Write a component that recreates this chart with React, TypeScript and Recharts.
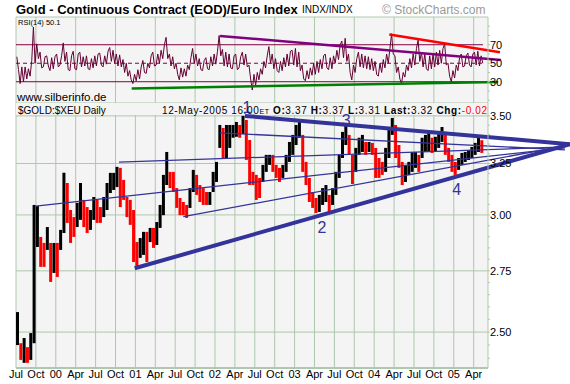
import React from 'react';
import {
  ComposedChart,
  Bar,
  Line,
  XAxis,
  YAxis,
  CartesianGrid,
  ReferenceLine,
  ReferenceArea,
  ReferenceDot,
  Cell,
} from 'recharts';

const FONT = '"Liberation Sans", Arial, Helvetica, sans-serif';
const GRID = '#aec7ae';
const BG = '#f4f4f4';
const NAVY = '#333399';
const MAROON = '#660033';

// half-month periods: two values per month (1st half, 2nd half); May 2005 only 1st half
const months = [
  '1999-07', '1999-08', '1999-09', '1999-10', '1999-11', '1999-12',
  '2000-01', '2000-02', '2000-03', '2000-04', '2000-05', '2000-06',
  '2000-07', '2000-08', '2000-09', '2000-10', '2000-11', '2000-12',
  '2001-01', '2001-02', '2001-03', '2001-04', '2001-05', '2001-06',
  '2001-07', '2001-08', '2001-09', '2001-10', '2001-11', '2001-12',
  '2002-01', '2002-02', '2002-03', '2002-04', '2002-05', '2002-06',
  '2002-07', '2002-08', '2002-09', '2002-10', '2002-11', '2002-12',
  '2003-01', '2003-02', '2003-03', '2003-04', '2003-05', '2003-06',
  '2003-07', '2003-08', '2003-09', '2003-10', '2003-11', '2003-12',
  '2004-01', '2004-02', '2004-03', '2004-04', '2004-05', '2004-06',
  '2004-07', '2004-08', '2004-09', '2004-10', '2004-11', '2004-12',
  '2005-01', '2005-02', '2005-03', '2005-04', '2005-05',
];

const priceHigh = [
  2.579, 2.457, 2.477, 2.442, 2.496, 3.047, 3.042, 2.899, 2.872, 2.944,
  2.872, 2.872, 2.872, 2.931, 3.203, 3.153, 3.023, 2.990, 3.057, 3.153,
  3.071, 3.037, 3.023, 3.085, 3.071, 3.037, 3.085, 3.153, 3.203, 3.203,
  3.233, 3.228, 3.168, 3.085, 3.071, 3.023, 2.876, 2.894, 2.922, 2.922,
  2.940, 2.940, 2.967, 3.047, 3.193, 3.309, 3.208, 3.208, 3.128, 3.080,
  3.061, 3.047, 3.128, 3.218, 3.193, 3.143, 3.128, 3.109, 3.109, 3.208,
  3.258, 3.451, 3.435, 3.451, 3.451, 3.451, 3.467, 3.451, 3.500, 3.478,
  3.371, 3.208, 3.193, 3.178, 3.243, 3.294, 3.294, 3.294, 3.243, 3.228,
  3.243, 3.294, 3.361, 3.398, 3.451, 3.478, 3.398, 3.258, 3.178, 3.109,
  3.080, 3.095, 3.128, 3.143, 3.095, 3.128, 3.208, 3.294, 3.414, 3.462,
  3.398, 3.294, 3.330, 3.383, 3.398, 3.361, 3.361, 3.356, 3.330, 3.278,
  3.258, 3.330, 3.435, 3.489, 3.451, 3.345, 3.258, 3.243, 3.258, 3.309,
  3.309, 3.294, 3.383, 3.398, 3.414, 3.383, 3.388, 3.414, 3.440, 3.414,
  3.330, 3.294, 3.258, 3.278, 3.304, 3.309, 3.319, 3.335, 3.356, 3.383,
  3.370,
];

const priceLow = [
  2.450, 2.394, 2.383, 2.383, 2.394, 2.457, 2.854, 2.767, 2.767, 2.841,
  2.703, 2.741, 2.724, 2.841, 2.917, 2.963, 2.872, 2.899, 2.944, 2.977,
  2.944, 2.917, 2.931, 2.977, 2.963, 2.963, 2.990, 3.023, 3.104, 3.119,
  3.133, 3.037, 3.071, 2.990, 2.954, 2.788, 2.767, 2.806, 2.819, 2.788,
  2.876, 2.850, 2.863, 2.940, 2.999, 3.143, 3.128, 3.109, 3.033, 2.999,
  2.999, 2.986, 3.033, 3.109, 3.095, 3.061, 3.047, 3.047, 3.047, 3.109,
  3.158, 3.330, 3.278, 3.278, 3.330, 3.383, 3.388, 3.383, 3.403, 3.268,
  3.143, 3.143, 3.071, 3.080, 3.158, 3.208, 3.243, 3.208, 3.178, 3.158,
  3.178, 3.208, 3.258, 3.294, 3.345, 3.383, 3.208, 3.143, 3.061, 3.033,
  3.009, 3.014, 3.047, 3.061, 3.014, 3.047, 3.095, 3.178, 3.278, 3.345,
  3.294, 3.148, 3.208, 3.294, 3.309, 3.294, 3.309, 3.294, 3.178, 3.178,
  3.193, 3.208, 3.278, 3.398, 3.278, 3.228, 3.143, 3.158, 3.193, 3.208,
  3.228, 3.208, 3.278, 3.309, 3.309, 3.304, 3.309, 3.330, 3.361, 3.294,
  3.258, 3.208, 3.193, 3.218, 3.243, 3.258, 3.268, 3.278, 3.294, 3.309,
  3.304,
];

const rsiHigh = [
  57, 46, 46, 44, 53, 89, 71, 62, 57, 58,
  56, 57, 60, 58, 72, 62, 58, 63, 60, 62,
  57, 58, 55, 58, 60, 61, 58, 63, 67, 64,
  60, 59, 54, 50, 42, 38, 43, 46, 53, 50,
  58, 62, 60, 64, 70, 78, 60, 57, 50, 45,
  44, 48, 56, 66, 60, 55, 53, 56, 57, 60,
  63, 80, 65, 62, 60, 58, 60, 57, 62, 60,
  48, 38, 40, 44, 52, 58, 68, 60, 55, 52,
  56, 60, 63, 64, 66, 62, 48, 42, 45, 50,
  52, 54, 58, 60, 56, 58, 64, 70, 74, 77,
  60, 48, 55, 62, 60, 58, 57, 55, 52, 50,
  54, 60, 66, 82, 58, 46, 40, 48, 55, 60,
  66, 75, 62, 60, 58, 60, 62, 64, 66, 71,
  50, 42, 48, 56, 60, 58, 61, 60, 62, 63,
  58,
];

const rsiLow = [
  43, 28, 30, 33, 36, 50, 55, 45, 46, 47,
  42, 44, 46, 48, 52, 43, 42, 44, 43, 46,
  47, 44, 43, 45, 47, 48, 46, 49, 52, 50,
  47, 46, 40, 36, 32, 28, 31, 33, 40, 39,
  45, 47, 48, 50, 55, 55, 47, 44, 38, 32,
  35, 36, 43, 50, 47, 43, 42, 44, 43, 47,
  49, 58, 47, 46, 45, 44, 43, 45, 48, 46,
  33, 21, 26, 32, 38, 45, 50, 44, 42, 40,
  42, 46, 47, 48, 46, 42, 33, 31, 33, 37,
  38, 40, 44, 45, 43, 44, 50, 54, 56, 52,
  40, 32, 40, 46, 45, 44, 43, 42, 38, 36,
  40, 45, 50, 60, 40, 33, 28, 35, 42, 45,
  48, 52, 46, 44, 42, 44, 46, 48, 50, 48,
  36, 30, 34, 42, 46, 47, 48, 46, 48, 47,
  50,
];

// x axis: months counted from Jan 1999
const quarterTicks = [6, 9, 12, 15, 18, 21, 24, 27, 30, 33, 36, 39, 42, 45, 48, 51, 54, 57, 60, 63, 66, 69, 72, 75];
const quarterLabels = ['Jul', 'Oct', '00', 'Apr', 'Jul', 'Oct', '01', 'Apr', 'Jul', 'Oct', '02', 'Apr', 'Jul', 'Oct', '03', 'Apr', 'Jul', 'Oct', '04', 'Apr', 'Jul', 'Oct', '05', 'Apr'];
const xDomain = [6, 77.16];

const priceTicks = [2.4, 2.45, 2.5, 2.55, 2.6, 2.65, 2.7, 2.75, 2.8, 2.85, 2.9, 2.95, 3.0, 3.05, 3.1, 3.15, 3.2, 3.25, 3.3, 3.35, 3.4, 3.45, 3.5];
const priceLabels = [2.5, 2.75, 3.0, 3.25, 3.5];
const priceDomain = [2.364, 3.571];

const rsiTicks = [10, 20, 30, 40, 50, 60, 70, 80, 90];
const rsiLabels = [30, 50, 70];
const rsiDomain = [7, 100];
const rsiLevels = [70, 30];
const rsiMid = 50;
const rsiEnd = 76.4;

// trend lines [t, value]
const upperRim = [[40.52, 3.5], [89.52, 3.349]];
const lowerRim = [[23.9, 2.761], [89.52, 3.349]];
const fanLines = [
  [[8.97, 3.041], [88.77, 3.33]],
  [[21.53, 3.257], [88.77, 3.335]],
  [[36.76, 3.409], [88.77, 3.32]],
  [[31.22, 2.992], [88.77, 3.34]],
];
const rsiRedLine = [[62.28, 81.0], [78.97, 61.9]];
const rsiPurpleLine = [[36.76, 79.5], [79.07, 53.6]];
const rsiGreenLine = [[23.44, 22.6], [78.7, 29.8]];

const waveLabels = ['1', '2', '3', '4'];
const waveT = [40.83, 52.13, 55.8, 72.44];
const wavePrice = [3.547, 2.943, 3.476, 3.124];

const monthIndex = (s: string) => {
  const [y, m] = s.split('-').map(Number);
  return (y - 1999) * 12 + (m - 1);
};

const periodT = (i: number) => monthIndex(months[Math.floor(i / 2)]) + (i % 2) * 0.5 + 0.25;

const priceData = priceHigh.map((h, i) => ({
  t: periodT(i),
  range: [priceLow[i], h],
}));

const barColors = priceHigh.map((h, i) => {
  const mid = (h + priceLow[i]) / 2;
  const prev = i > 0 ? (priceHigh[i - 1] + priceLow[i - 1]) / 2 : mid;
  return mid >= prev ? '#000000' : '#ff0000';
});

// each half-month contributes its high and low; order follows the direction to the next period
const rsiData = rsiHigh.flatMap((h, i) => {
  const t = periodT(i);
  const mid = (h + rsiLow[i]) / 2;
  const next = i < rsiHigh.length - 1 ? (rsiHigh[i + 1] + rsiLow[i + 1]) / 2 : -Infinity;
  const rising = next > mid;
  const first = rising ? rsiLow[i] : h;
  const second = rising ? h : rsiLow[i];
  return [
    { t: t - 0.125, v: first },
    { t: t + 0.125, v: second },
  ];
});

const seg = (p: number[][]) => [
  { x: p[0][0], y: p[0][1] },
  { x: p[1][0], y: p[1][1] },
];

const PriceTick = (props: any) => {
  const { x, y, payload } = props;
  const v = payload.value;
  if (!priceLabels.some((l) => Math.abs(l - v) < 1e-6)) return <g />;
  return (
    <text x={x} y={y} dy="0.355em" fontSize={11} fontFamily={FONT} fill="#000" textAnchor="start">
      {v.toFixed(2)}
    </text>
  );
};

const RsiTick = (props: any) => {
  const { x, y, payload } = props;
  const v = payload.value;
  if (!rsiLabels.includes(v)) return <g />;
  return (
    <text x={x} y={y} dy="0.355em" fontSize={11} fontFamily={FONT} fill="#000" textAnchor="start">
      {v}
    </text>
  );
};

const qLabel = (v: number) => {
  const i = quarterTicks.indexOf(v);
  return i >= 0 ? quarterLabels[i] : '';
};

export default function App() {
  return (
    <div
      style={{
        position: 'absolute',
        left: 0,
        top: 0,
        width: 570,
        height: 384,
        background: '#ffffff',
        overflow: 'hidden',
        fontFamily: FONT,
      }}
    >
      {/* RSI panel */}
      <div style={{ position: 'absolute', left: 0, top: 0 }}>
        <ComposedChart width={570} height={110} data={rsiData} margin={{ top: 17, right: 42, bottom: 7, left: 16 }}>
          <CartesianGrid stroke={GRID} fill={BG} horizontalValues={[100]} verticalValues={quarterTicks} />
          <XAxis type="number" dataKey="t" domain={xDomain} allowDataOverflow hide />
          <YAxis
            orientation="right"
            domain={rsiDomain}
            allowDataOverflow
            ticks={rsiTicks}
            interval={0}
            width={40}
            tickSize={2}
            tickMargin={0}
            axisLine={{ stroke: GRID }}
            tickLine={{ stroke: GRID }}
            tick={RsiTick}
          />
          <YAxis
            yAxisId="left"
            orientation="left"
            mirror
            domain={rsiDomain}
            allowDataOverflow
            ticks={rsiTicks}
            interval={0}
            width={0}
            tick={false}
            tickSize={3}
            axisLine={{ stroke: GRID }}
            tickLine={{ stroke: GRID }}
          />
          {rsiLevels.map((lv) => (
            <ReferenceLine
              key={lv}
              segment={[{ x: xDomain[0], y: lv }, { x: rsiEnd, y: lv }]}
              stroke="#800040"
              strokeWidth={1}
              ifOverflow="visible"
            />
          ))}
          <ReferenceLine
            segment={[{ x: xDomain[0], y: rsiMid }, { x: rsiEnd, y: rsiMid }]}
            stroke="#800040"
            strokeWidth={1}
            strokeDasharray="4 3"
            ifOverflow="visible"
          />
          <Line
            type="linear"
            dataKey="v"
            stroke={MAROON}
            strokeWidth={1}
            dot={false}
            isAnimationActive={false}
          />
          <ReferenceLine segment={seg(rsiPurpleLine)} stroke="#800080" strokeWidth={2.5} ifOverflow="visible" />
          <ReferenceLine segment={seg(rsiGreenLine)} stroke="#008000" strokeWidth={2.5} ifOverflow="visible" />
          <ReferenceLine segment={seg(rsiRedLine)} stroke="#ff0000" strokeWidth={2.5} ifOverflow="visible" />
        </ComposedChart>
      </div>

      {/* Price panel */}
      <div style={{ position: 'absolute', left: 0, top: 0 }}>
        <ComposedChart width={570} height={384} data={priceData} margin={{ top: 103, right: 42, bottom: 0, left: 16 }}>
          <CartesianGrid
            stroke={GRID}
            fill={BG}
            horizontalValues={[2.5, 2.75, 3.0, 3.25, 3.5, 3.571]}
            verticalValues={quarterTicks}
          />
          <XAxis
            type="number"
            dataKey="t"
            domain={xDomain}
            allowDataOverflow
            ticks={quarterTicks}
            interval={0}
            tickFormatter={qLabel}
            tickLine={false}
            tickSize={0}
            tickMargin={2}
            height={16}
            axisLine={{ stroke: GRID, strokeWidth: 2 }}
            tick={{ fontSize: 11, fill: '#000', fontFamily: FONT }}
          />
          <YAxis
            orientation="right"
            scale="log"
            domain={priceDomain}
            allowDataOverflow
            ticks={priceTicks}
            interval={0}
            width={40}
            tickSize={2}
            tickMargin={0}
            axisLine={{ stroke: GRID }}
            tickLine={{ stroke: GRID }}
            tick={PriceTick}
          />
          <YAxis
            yAxisId="left"
            orientation="left"
            mirror
            scale="log"
            domain={priceDomain}
            allowDataOverflow
            ticks={priceTicks}
            interval={0}
            width={0}
            tick={false}
            tickSize={3}
            axisLine={{ stroke: GRID }}
            tickLine={{ stroke: GRID }}
          />
          <ReferenceArea
            x1={xDomain[0]}
            x2={xDomain[1]}
            y1={3.505}
            y2={priceDomain[1]}
            fill={BG}
            fillOpacity={1}
            stroke="none"
            ifOverflow="hidden"
          />
          <Bar dataKey="range" barSize={3} isAnimationActive={false}>
            {priceData.map((d, i) => (
              <Cell key={i} fill={barColors[i]} />
            ))}
          </Bar>
          {fanLines.map((f, i) => (
            <ReferenceLine key={i} segment={seg(f)} stroke={NAVY} strokeWidth={1.3} ifOverflow="visible" />
          ))}
          <ReferenceLine segment={seg(upperRim)} stroke={NAVY} strokeWidth={4} ifOverflow="visible" />
          <ReferenceLine segment={seg(lowerRim)} stroke={NAVY} strokeWidth={4} ifOverflow="visible" />
          {waveLabels.map((w, i) => (
            <ReferenceDot
              key={w}
              x={waveT[i]}
              y={wavePrice[i]}
              r={0}
              fill="none"
              stroke="none"
              ifOverflow="visible"
              label={{ value: w, position: 'center', fill: NAVY, fontSize: 16, fontFamily: FONT }}
            />
          ))}
        </ComposedChart>
      </div>

      {/* Text overlay */}
      <svg
        width={570}
        height={384}
        style={{ position: 'absolute', left: 0, top: 0, pointerEvents: 'none' }}
        fontFamily={FONT}
      >
        <text x={16} y={13.5} fontSize={13} fontWeight="bold" fill="#000">
          Gold - Continuous Contract (EOD)/Euro Index
        </text>
        <text x={302} y={12.5} fontSize={10} fill="#000">
          INDX/INDX
        </text>
        <text x={382} y={13.5} fontSize={12} fill="#999999">
          © StockCharts.com
        </text>
        <text x={18} y={24.5} fontSize={7.5} fill="#000">
          RSI(14) 50.1
        </text>
        <text x={17} y={101} fontSize={11.5} fill="#000">
          www.silberinfo.de
        </text>
        <text x={18} y={113.5} fontSize={10} fill="#000">
          $GOLD:$XEU Daily
        </text>
        <text x={162} y={113.5} fontSize={10} fill="#000" textLength={325} lengthAdjust="spacing">
          12-May-2005 16:00<tspan fontSize={7}>ET</tspan>
          {' '}
          <tspan fontWeight="bold">O:</tspan>3.37{' '}
          <tspan fontWeight="bold">H:</tspan>3.37{' '}
          <tspan fontWeight="bold">L:</tspan>3.31{' '}
          <tspan fontWeight="bold">Last:</tspan>3.32{' '}
          <tspan fontWeight="bold">Chg:</tspan>
          <tspan fill="#ff0000">-0.02</tspan>
        </text>
      </svg>
    </div>
  );
}
